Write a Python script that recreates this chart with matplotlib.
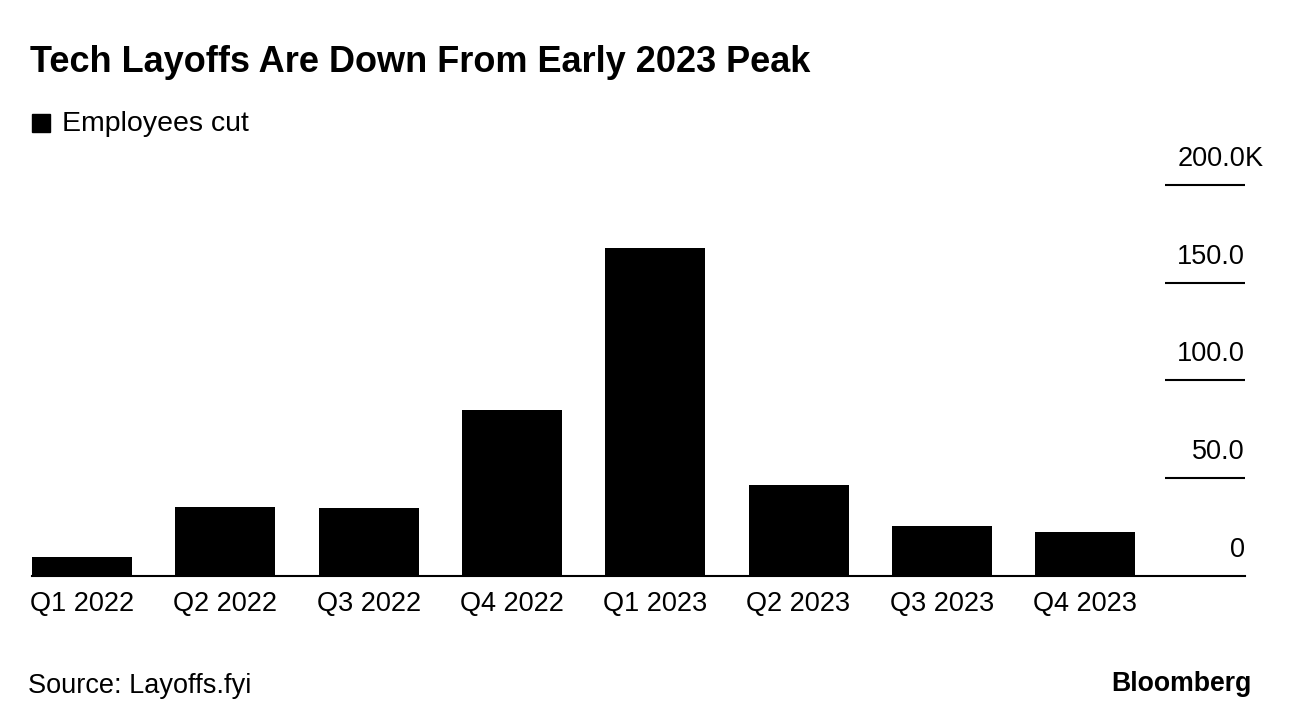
import matplotlib
matplotlib.use("Agg")
import matplotlib.pyplot as plt

plt.rcParams['font.family'] = ['Liberation Sans', 'DejaVu Sans']

quarters = ['Q1 2022', 'Q2 2022', 'Q3 2022', 'Q4 2022',
            'Q1 2023', 'Q2 2023', 'Q3 2023', 'Q4 2023']
employees_cut = [9.8, 35.3, 35.0, 84.8, 167.8, 46.4, 25.6, 22.5]  # thousands
y_ticks = [0, 50, 100, 150, 200]
y_tick_labels = ['0', '50.0', '100.0', '150.0', '200.0']
unit_suffix = 'K'

W, H = 1292, 726
fig = plt.figure(figsize=(W / 100, H / 100), dpi=100)

# axes placed in pixel terms: zero line at y=576, 200K at y=185
left_px, right_px = 32, 1245
bottom_px = 576
px_per_unit = (576 - 185) / 200
y_top = 205
top_px = bottom_px - y_top * px_per_unit
ax = fig.add_axes([left_px / W, (H - bottom_px) / H,
                   (right_px - left_px) / W, (bottom_px - top_px) / H])

spacing = 143.3
bar_w = 100 / spacing
x = list(range(len(quarters)))
ax.bar(x, employees_cut, width=bar_w, color='black', zorder=2)
ax.set_xlim(-bar_w / 2, (right_px - left_px) / spacing - bar_w / 2)
ax.set_ylim(0, y_top)

for s in ax.spines.values():
    s.set_visible(False)
ax.set_yticks([])
ax.set_xticks(x)
ax.set_xticklabels(quarters, fontsize=19.5, color='black')
ax.tick_params(axis='x', length=0, pad=11)

# zero baseline across the full width
ax.axhline(0, color='black', lw=1.5, zorder=3, clip_on=False)

ytrans = ax.get_yaxis_transform()
tick_start = (1165 - left_px) / (right_px - left_px)
for v, lab in zip(y_ticks, y_tick_labels):
    if v != 0:
        ax.plot([tick_start, 1.0], [v, v], transform=ytrans, color='black',
                lw=1.5, clip_on=False, solid_capstyle='butt')
    ax.annotate(lab, xy=(1.0, v), xycoords=ytrans, xytext=(0, 26 * 0.72),
                textcoords='offset points', ha='right', va='center',
                fontsize=19.5, color='black')
# unit hangs past the right edge of the top label
ax.annotate(unit_suffix, xy=(1.0, y_ticks[-1]), xycoords=ytrans,
            xytext=(0, 26 * 0.72), textcoords='offset points',
            ha='left', va='center', fontsize=19.5, color='black')

fig.text(30 / W, 1 - 62 / H, 'Tech Layoffs Are Down From Early 2023 Peak',
         fontsize=26, fontweight='bold', ha='left', va='center')

fig.patches.append(plt.Rectangle((32 / W, 1 - 132 / H), 18 / W, 18 / H,
                                 transform=fig.transFigure, color='black'))
fig.text(62 / W, 1 - 124 / H, 'Employees cut', fontsize=20.5,
         ha='left', va='center')

fig.text(28 / W, 1 - 686 / H, 'Source: Layoffs.fyi', fontsize=19.5,
         ha='left', va='center')
fig.text(1252 / W, 1 - 684 / H, 'Bloomberg', fontsize=19.2, fontweight='bold',
         ha='right', va='center')

fig.savefig('out.png', dpi=100)
